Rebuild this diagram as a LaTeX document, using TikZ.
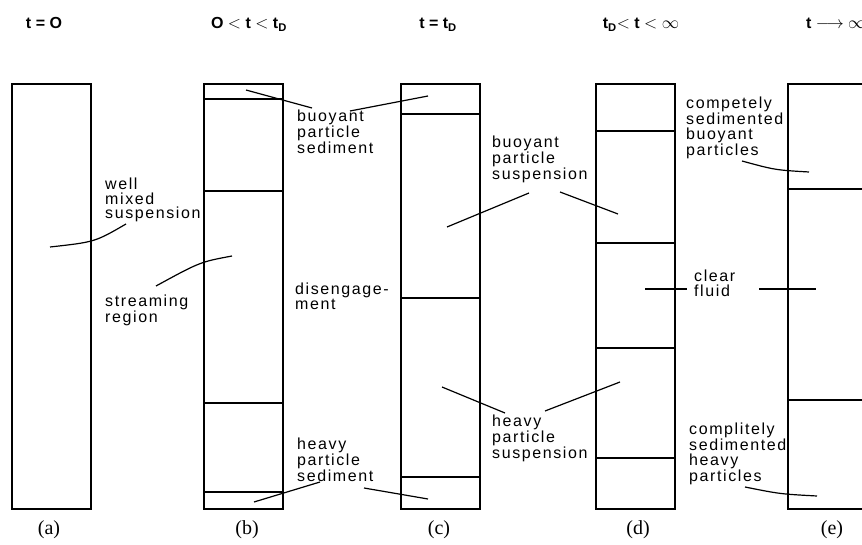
\documentclass[tikz,border=0pt]{standalone}
\usepackage{fontspec}
\setmainfont{Liberation Serif}
\setsansfont{Liberation Sans}
\usetikzlibrary{positioning}

\tikzset{
  column/.style={draw, line width=1.7pt, minimum width=79pt, minimum height=425pt,
    inner sep=0pt, anchor=north west},
  divider/.style={line width=1.6pt},
  leader/.style={line width=1.2pt},
  tag/.style={font=\fontsize{16}{14.5}\selectfont\sffamily\addfontfeature{LetterSpace=10},
    align=left, inner sep=0pt, anchor=north west},
  title/.style={font=\fontsize{16}{18}\selectfont\sffamily\bfseries, inner sep=0pt, anchor=base},
  caption/.style={font=\fontsize{20}{22}\selectfont, inner sep=0pt, anchor=base}
}

\begin{document}
\begin{tikzpicture}[x=1pt, y=-1pt]
  \useasboundingbox (0,0) rectangle (862,545);

  % time headings
  \node[title] (titleA) at (44,29) {t = O};
  \node[title] (titleB) at (249,29) {O $<$ t $<$ t\textsubscript{D}};
  \node[title] (titleC) at (438,29) {t = t\textsubscript{D}};
  \node[title] (titleD) at (641,29) {t\textsubscript{D}$<$ t $<$ $\infty$};
  \node[title, anchor=base west] (titleE) at (806,29) {t $\longrightarrow$ $\infty$};

  % settling columns
  \node[column] (colA) at (11,83) {};
  \node[column] (colB) at (203,83) {};
  \node[column] (colC) at (400,83) {};
  \node[column] (colD) at (595,83) {};
  \node[column] (colE) at (787,83) {};

  \foreach \y in {99,191,403,492}
    \draw[divider] (colB.west |- 0,\y) -- (colB.east |- 0,\y);
  \foreach \y in {114,298,477}
    \draw[divider] (colC.west |- 0,\y) -- (colC.east |- 0,\y);
  \foreach \y in {131,243,348,458}
    \draw[divider] (colD.west |- 0,\y) -- (colD.east |- 0,\y);
  \foreach \y in {189,400}
    \draw[divider] (colE.west |- 0,\y) -- (colE.east |- 0,\y);

  % captions
  \node[caption] (capA) at (49,534) {(a)};
  \node[caption] (capB) at (247,534) {(b)};
  \node[caption] (capC) at (439,534) {(c)};
  \node[caption] (capD) at (638,534) {(d)};
  \node[caption] (capE) at (832,534) {(e)};

  % region labels
  \node[tag] (wellMixed) at (105,178) {well\\mixed\\suspension};
  \node[tag] (streaming) at (105,295) {streaming\\region};
  \node[tag] (buoySed) at (297,110) {buoyant\\particle\\sediment};
  \node[tag, font=\fontsize{16}{12.5}\selectfont\sffamily\addfontfeature{LetterSpace=10}]
    (disengage) at (295,283) {disengage-\\ment};
  \node[tag] (buoySusp) at (492,136) {buoyant\\particle\\suspension};
  \node[tag] (clearFluid) at (694,270) {clear\\fluid};
  \node[tag] (heavySed) at (297,438) {heavy\\particle\\sediment};
  \node[tag] (heavySusp) at (492,415) {heavy\\particle\\suspension};
  \node[tag] (buoyDone) at (686,97) {competely\\sedimented\\buoyant\\particles};
  \node[tag] (heavyDone) at (689,423) {complitely\\sedimented\\heavy\\particles};

  % leader ends
  \coordinate (wellTip) at (50,247);      \coordinate (wellTail) at (126,224);
  \coordinate (streamTip) at (232,256);   \coordinate (streamTail) at (156,286);
  \coordinate (bsTipB) at (246,90);       \coordinate (bsTailB) at (312,108);
  \coordinate (bsTipC) at (428,96);       \coordinate (bsTailC) at (350,111);
  \coordinate (buTipC) at (447,227);      \coordinate (buTailC) at (529,193);
  \coordinate (buTipD) at (618,214);      \coordinate (buTailD) at (560,192);
  \coordinate (cfTipD) at (645,289);      \coordinate (cfTailD) at (687,289);
  \coordinate (cfTipE) at (816,289);      \coordinate (cfTailE) at (759,289);
  \coordinate (hsTipB) at (254,502);      \coordinate (hsTailB) at (320,482);
  \coordinate (hsTipC) at (428,499);      \coordinate (hsTailC) at (364,488);
  \coordinate (huTipC) at (442,387);      \coordinate (huTailC) at (505,413);
  \coordinate (huTipD) at (620,382);      \coordinate (huTailD) at (545,411);
  \coordinate (bdTip) at (809,172);       \coordinate (bdTail) at (742,161);
  \coordinate (hdTip) at (817,496);       \coordinate (hdTail) at (745,487);

  \draw[leader] (wellTip) .. controls (95,242) .. (wellTail);
  \draw[leader] (streamTail) .. controls (200,262) .. (streamTip);
  \draw[leader] (bsTipB) -- (bsTailB);
  \draw[leader] (bsTailC) -- (bsTipC);
  \draw[leader] (buTailC) -- (buTipC);
  \draw[leader] (buTailD) -- (buTipD);
  \draw[leader] (cfTipD) -- (cfTailD);
  \draw[leader] (cfTailE) -- (cfTipE);
  \draw[leader] (hsTailB) -- (hsTipB);
  \draw[leader] (hsTailC) -- (hsTipC);
  \draw[leader] (huTipC) -- (huTailC);
  \draw[leader] (huTailD) -- (huTipD);
  \draw[leader] (bdTail) .. controls (775,170) .. (bdTip);
  \draw[leader] (hdTail) .. controls (780,494) .. (hdTip);
\end{tikzpicture}
\end{document}
